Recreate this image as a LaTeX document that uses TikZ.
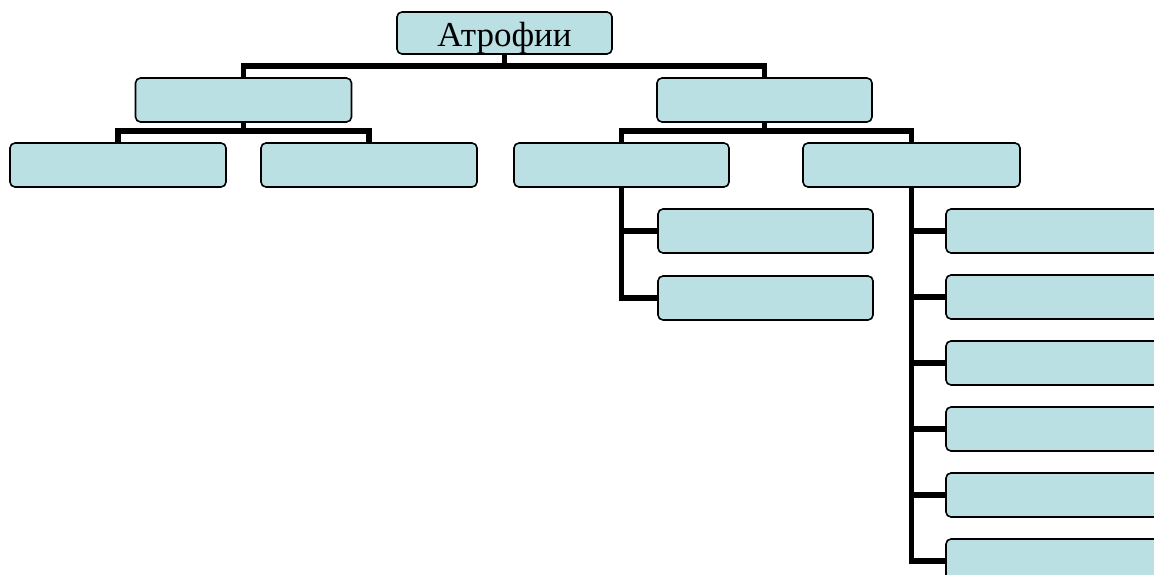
\documentclass[tikz,border=0pt]{standalone}
\usepackage{fontspec}
\setmainfont{Liberation Serif}
\usetikzlibrary{backgrounds}
\definecolor{boxfill}{RGB}{187,224,227}
\tikzset{
  orgbox/.style={draw=black, line width=1.6pt, fill=boxfill, rounded corners=5pt,
    minimum width=216pt, minimum height=44pt, inner sep=0pt, outer sep=0pt},
  link/.style={draw=black, line width=5.8pt, line join=miter, line cap=rect}
}
\begin{document}
\begin{tikzpicture}[x=1pt, y=-1pt]
\useasboundingbox (0,0) rectangle (1154,575);
\clip (0,0) rectangle (1154,575);
\node[orgbox, minimum width=215pt, minimum height=42pt, font=\fontsize{35}{38}\selectfont] (top) at (504.5,33) {\raisebox{-5pt}[\height][\depth]{Атрофии}};
\node[orgbox] (l2a) at (243.5,100) {};
\node[orgbox, minimum width=215pt] (l2b) at (764.5,100) {};
\node[orgbox] (l3a) at (118,165) {};
\node[orgbox] (l3b) at (369,165) {};
\node[orgbox, minimum width=215pt] (l3c) at (621.5,165) {};
\node[orgbox, minimum width=217pt] (l3d) at (911.5,165) {};
\node[orgbox, minimum width=215pt] (l4a) at (765.5,231) {};
\node[orgbox, minimum width=215pt] (l4b) at (765.5,298) {};
\foreach \i/\y in {1/231,2/297,3/363,4/429,5/495,6/561}{
  \node[orgbox] (r\i) at (1054,\y) {};
}
\coordinate (bar1) at (504.5,66);
\coordinate (bar2a) at (243.5,131);
\coordinate (bar2b) at (764.5,131);
\begin{scope}[on background layer]
\draw[link] (top.south) -- (bar1);
\draw[link] (l2a.north) |- (bar1) -| (l2b.north);
\draw[link] (l2a.south) -- (bar2a);
\draw[link] (l3a.north) |- (bar2a) -| (l3b.north);
\draw[link] (l2b.south) -- (bar2b);
\draw[link] (l3c.north) |- (bar2b) -| (l3d.north);
\draw[link] (l3c.south) |- (l4a.west);
\draw[link] (l3c.south) |- (l4b.west);
\foreach \i in {1,...,6}{
  \draw[link] (l3d.south) |- (r\i.west);
}
\end{scope}
\end{tikzpicture}
\end{document}
